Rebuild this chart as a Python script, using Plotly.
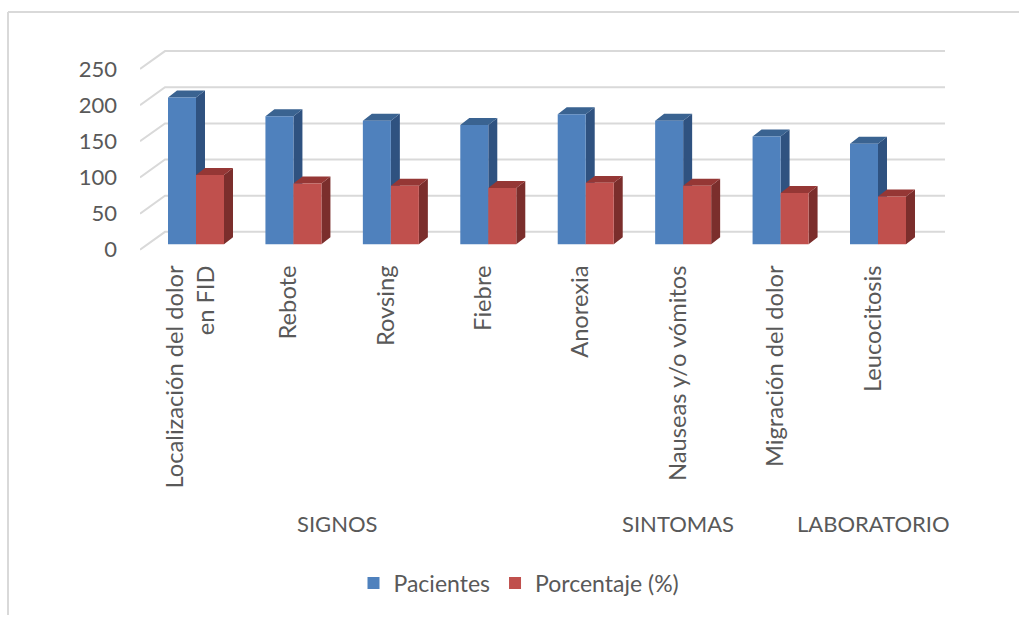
import plotly.graph_objects as go

# Chart data
categories = ["Localización del dolor<br>en FID", "Rebote", "Rovsing", "Fiebre",
              "Anorexia", "Nauseas y/o vómitos", "Migración del dolor", "Leucocitosis"]
pacientes = [203, 177, 171, 165, 180, 171, 149, 139]
porcentaje = [96, 84, 81, 78, 85, 81, 71, 66]
y_ticks = [0, 50, 100, 150, 200, 250]
groups = [("SIGNOS", 0, 3), ("SINTOMAS", 4, 6), ("LABORATORIO", 7, 7)]

W, H = 1019, 618
FONT = "Lato"
TEXT = "#595959"
GRID = "#d9d9d9"

# Page geometry of the pseudo-3D plot box
PLOT_L, PLOT_R, PLOT_T, PLOT_B = 140, 945, 40, 261
CAT_STEP = 97.43        # px between categories
CAT0_PX = 196           # px of the first category centre
Y_SCALE = 0.7267        # px per value unit
FRONT_ZERO = 251        # px of value 0 on the front edge of the floor
BAR_ZERO = 245.5        # px of value 0 on the front face of the bars
WALL_DX, WALL_DY = 25 / CAT_STEP, 18 / Y_SCALE
BAR_DX, BAR_DY = 9 / CAT_STEP, 7 / Y_SCALE
BAR_W = 28 / CAT_STEP
LABEL_SHIFT = 5 / CAT_STEP

xs = list(range(len(categories)))
x_lo = (PLOT_L - CAT0_PX) / CAT_STEP
x_hi = (PLOT_R - CAT0_PX) / CAT_STEP


def y_range(zero_px):
    return [(zero_px - PLOT_B) / Y_SCALE, (zero_px - PLOT_T) / Y_SCALE]


def faces(values, left_of):
    """Side and top faces of a series' boxes, as filled outlines."""
    side_x, side_y, top_x, top_y = [], [], [], []
    for x, v in zip(xs, values):
        l = x + left_of
        r = l + BAR_W
        side_x += [r, r + BAR_DX, r + BAR_DX, r, r, None]
        side_y += [0, BAR_DY, v + BAR_DY, v, 0, None]
        top_x += [l, r, r + BAR_DX, l + BAR_DX, l, None]
        top_y += [v, v, v + BAR_DY, v + BAR_DY, v, None]
    return side_x, side_y, top_x, top_y


fig = go.Figure()

# Back wall grid with its diagonal floor-side returns
wall_x, wall_y = [], []
for t in y_ticks:
    wall_x += [x_lo, x_lo + WALL_DX, x_hi, None]
    wall_y += [t, t + WALL_DY, t + WALL_DY, None]
fig.add_trace(go.Scatter(x=wall_x, y=wall_y, mode="lines", yaxis="y",
                         line=dict(color=GRID, width=2), showlegend=False,
                         hoverinfo="skip", cliponaxis=False))

# Box depth faces sit under the front faces
series = [("Pacientes", pacientes, -BAR_W, "#4F81BD", "#2F5280", "#3A6391"),
          ("Porcentaje (%)", porcentaje, 0, "#C0504D", "#7B2E2C", "#953735")]
for name, values, left, front, side, top in series:
    sx, sy, tx, ty = faces(values, left)
    for fx, fy, col in ((sx, sy, side), (tx, ty, top)):
        fig.add_trace(go.Scatter(x=fx, y=fy, mode="lines", yaxis="y2", fill="toself",
                                 fillcolor=col, line=dict(width=0, color=col),
                                 showlegend=False, hoverinfo="skip"))

for name, values, left, front, side, top in series:
    fig.add_trace(go.Bar(x=xs, y=values, name=name, yaxis="y3",
                         marker=dict(color=front, line=dict(width=0))))

y_domain = [1 - PLOT_B / H, 1 - PLOT_T / H]
fig.update_layout(
    width=W, height=H,
    margin=dict(l=0, r=0, t=0, b=0),
    paper_bgcolor="white", plot_bgcolor="rgba(0,0,0,0)",
    barmode="group", bargap=1 - 2 * BAR_W, bargroupgap=0,
    font=dict(family=FONT, color=TEXT),
    xaxis=dict(domain=[PLOT_L / W, PLOT_R / W], range=[x_lo, x_hi],
               tickvals=[x - LABEL_SHIFT for x in xs], ticktext=categories,
               tickangle=-90, tickfont=dict(size=23.7, family=FONT, color=TEXT),
               showgrid=False, zeroline=False, showline=False, ticks="",
               ticklabelstandoff=0),
    yaxis=dict(domain=y_domain, range=y_range(FRONT_ZERO), tickvals=y_ticks,
               tickfont=dict(size=22, family=FONT, color=TEXT), showgrid=False,
               zeroline=False, showline=False, ticks="", ticklabelstandoff=22),
    yaxis2=dict(domain=y_domain, range=y_range(BAR_ZERO), overlaying="y", visible=False),
    yaxis3=dict(domain=y_domain, range=y_range(BAR_ZERO), overlaying="y", visible=False),
    legend=dict(orientation="h", x=519 / W, y=1 - 586 / H, xanchor="center", yanchor="middle",
                font=dict(size=23, family=FONT, color=TEXT), itemwidth=30,
                bgcolor="rgba(0,0,0,0)"),
    shapes=[
        dict(type="line", xref="paper", yref="paper", x0=8 / W, x1=1, y0=1 - 12 / H, y1=1 - 12 / H,
             line=dict(color=GRID, width=2)),
        dict(type="line", xref="paper", yref="paper", x0=8 / W, x1=8 / W, y0=1 - 12 / H, y1=0,
             line=dict(color=GRID, width=2)),
    ],
    annotations=[
        dict(text=name, x=(a + b) / 2 - LABEL_SHIFT, xref="x", y=1 - 526 / H, yref="paper",
             showarrow=False, xanchor="center", yanchor="middle",
             font=dict(size=22, family=FONT, color=TEXT))
        for name, a, b in groups
    ],
)

fig.write_html("out.html")
